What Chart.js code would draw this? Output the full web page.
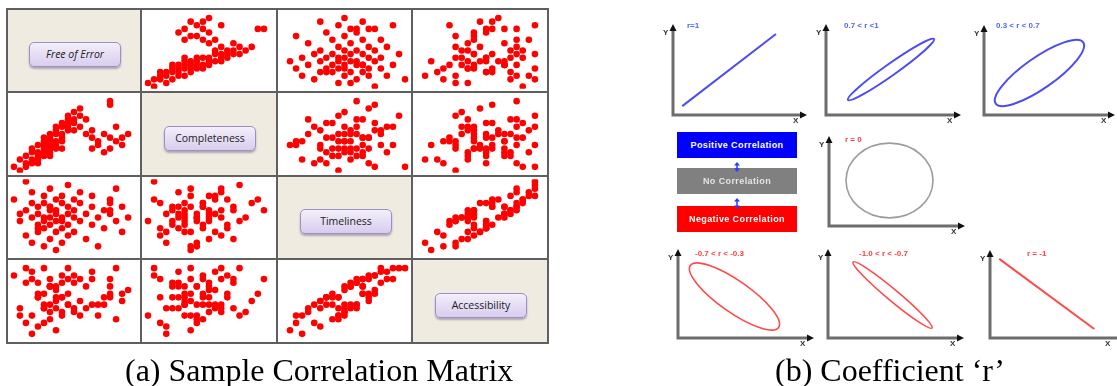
<!DOCTYPE html>
<html>
<head>
<meta charset="utf-8">
<script src="https://cdn.jsdelivr.net/npm/chart.js@4.4.1/dist/chart.umd.min.js"></script>
<style>
body{margin:0;width:1117px;height:386px;overflow:hidden;background:#fff;position:relative;font-family:"Liberation Sans",Arial,sans-serif}
.abs{position:absolute}
.cell{position:absolute;background:#fff}
.diag{background:#efebe1}
.btn{position:absolute;width:92px;height:25px;border:1px solid #9d8fc6;border-radius:5px;box-sizing:border-box;
background:linear-gradient(#f3effb,#d8cdee);box-shadow:0 2px 2px rgba(60,40,90,.35);
font:10.5px "Open Sans","DejaVu Sans",sans-serif;color:#222;text-align:center;line-height:23px}
.gl{position:absolute;background:#5f5f5f}
.plbl{position:absolute;font:bold 8px "Liberation Sans",Arial,sans-serif;white-space:nowrap;line-height:10px}
.axl{position:absolute;font:bold 8px "Liberation Sans",Arial,sans-serif;color:#333;line-height:10px}
.box{position:absolute;left:677px;width:120px;font:bold 9px "Liberation Sans",Arial,sans-serif;letter-spacing:.4px;
text-align:center;color:#fff}
.cap{position:absolute;font:32px "Liberation Serif","Times New Roman",serif;color:#000;line-height:32px;white-space:nowrap}
</style>
</head>
<body>
<script>
// variables of the scatter matrix (one value per respondent)
const varNames = ["Free of Error", "Completeness", "Timeliness", "Accessibility"];
const freeOfError = [1,0,2,2,3,3,3,4,4,4,4,5,5,5,5,5,6,6,6,6,6,6,7,7,7,7,7,7,8,8,8,8,8,9,9,9,9,9,10,10,10,10,11,11,11,12,12,13,13,13,14,14,15,15,16,16,17,17,18,18,19,16,16,2,1,3,4,5,6,8];
const completeness = [0,1,2,4,3,5,6,4,7,3,5,6,8,4,7,9,6,8,10,5,7,9,8,11,6,10,12,7,9,12,13,10,8,11,14,13,15,12,14,16,13,11,15,17,12,10,14,9,6,11,8,7,10,5,9,6,8,12,9,7,10,18,19,1,3,2,2,5,4,6];
const timeliness = [9,15,5,12,3,17,10,8,13,6,11,14,2,9,16,7,12,10,4,13,18,8,11,15,6,9,12,1,14,10,7,16,3,11,13,8,19,5,12,10,15,6,9,14,17,11,4,13,8,16,10,2,12,7,14,11,9,18,13,6,10,15,12,20,11,14,7,10,13,9];
const accessibility = [6,17,4,15,1,18,6,11,12,3,15,12,4,8,19,9,9,14,7,14,16,5,14,13,10,11,8,2,17,7,11,15,6,9,16,12,19,9,15,7,17,8,6,10,16,14,8,16,9,18,9,6,9,11,11,14,5,19,12,10,13,12,16,19,8,16,11,8,14,11];
const matrixVars = [freeOfError, completeness, timeliness, accessibility];

// coefficient panels (x, y in 0..10 axis units)
const panelLabels = ["r=1", "0.7 < r <1", "0.3 < r < 0.7", "r = 0", "-0.7 < r < -0.3", "-1.0 < r < -0.7", "r = -1"];
const posLineX = [0.7, 7.8],  posLineY = [1.0, 9.1];
const negLineX = [0.7, 7.9],  negLineY = [9.2, 1.05];
const strongPosX = [1.65, 8.12], strongPosY = [1.69, 8.54];
const weakPosX = [0.91, 7.69],   weakPosY = [1.3, 8.25];
const zeroX = [1.27, 7.76],      zeroY = [5.17, 5.17];
const weakNegX = [0.92, 7.51],   weakNegY = [8.33, 1.21];
const strongNegX = [1.87, 7.76], strongNegY = [8.74, 1.15];
const ellipseRatio = {strong: 0.11, weak: 0.29, zero: 0.86};
const corrBoxes = ["Positive Correlation", "No Correlation", "Negative Correlation"];

const pts = (xs, ys) => xs.map((v, i) => ({x: v, y: ys[i]}));

function el(tag, cls, css, txt){
  const d = document.createElement(tag);
  if(cls) d.className = cls;
  Object.assign(d.style, css || {});
  if(txt) d.textContent = txt;
  document.body.appendChild(d);
  return d;
}

/* ---------- (a) scatter matrix ---------- */
const colX = [7,141,277,412,548], rowY = [9,92,176,259,343];
for(let r=0;r<4;r++){
  for(let c=0;c<4;c++){
    const x = colX[c], y = rowY[r], w = colX[c+1]-x, h = rowY[r+1]-y;
    const cell = el("div", "cell"+(r==c?" diag":""), {left:x+"px",top:y+"px",width:w+"px",height:h+"px"});
    if(r==c){
      const b = document.createElement("div");
      b.className = "btn";
      b.textContent = varNames[r];
      b.style.left = Math.round((w-92)/2+1)+"px";
      b.style.top = Math.round((h-25)/2+4)+"px";
      if(r==0) b.style.fontStyle = "italic";
      cell.appendChild(b);
      continue;
    }
    const cv = document.createElement("canvas");
    cell.appendChild(cv);
    new Chart(cv, {
      type: "scatter",
      data: {datasets: [{data: pts(matrixVars[c], matrixVars[r])}]},
      options: {
        responsive: true, maintainAspectRatio: false, animation: false,
        layout: {padding: 3},
        elements: {point: {radius: 3.3, backgroundColor: "#ff0000", borderWidth: 0, hoverRadius: 3.3}},
        scales: {x: {display: false, min: -0.6, max: 20.6}, y: {display: false, min: -0.6, max: 20.6}},
        plugins: {legend: {display: false}, tooltip: {enabled: false}}
      }
    });
  }
}
for(const x of colX) el("div","gl",{left:(x-1)+"px",top:"8px",width:"2px",height:"336px"});
for(const y of rowY) el("div","gl",{left:"6px",top:(y-1)+"px",width:"543px",height:"2px"});

/* ---------- (b) coefficient panels ---------- */
const axisArrows = {
  id: "axisArrows",
  beforeDatasetsDraw(chart){
    const {ctx, chartArea: a} = chart;
    ctx.save();
    ctx.strokeStyle = "#6d6d6d"; ctx.lineWidth = 3;
    ctx.beginPath();
    ctx.moveTo(a.left, a.top+3); ctx.lineTo(a.left, a.bottom); ctx.lineTo(a.right-3, a.bottom);
    ctx.stroke();
    ctx.fillStyle = "#111";
    ctx.beginPath();
    ctx.moveTo(a.left, a.top-2); ctx.lineTo(a.left-3.5, a.top+5); ctx.lineTo(a.left+3.5, a.top+5);
    ctx.fill();
    ctx.beginPath();
    ctx.moveTo(a.right+2, a.bottom); ctx.lineTo(a.right-5, a.bottom-3.5); ctx.lineTo(a.right-5, a.bottom+3.5);
    ctx.fill();
    ctx.restore();
  }
};
const ellipses = {
  id: "ellipses",
  afterDatasetsDraw(chart){
    const ctx = chart.ctx;
    chart.data.datasets.forEach((ds, i) => {
      if(!ds.ellipse) return;
      const [p, q] = chart.getDatasetMeta(i).data;
      const cx = (p.x+q.x)/2, cy = (p.y+q.y)/2;
      const ra = Math.hypot(q.x-p.x, q.y-p.y)/2;
      ctx.save();
      ctx.strokeStyle = ds.borderColor; ctx.lineWidth = ds.borderWidth;
      ctx.beginPath();
      ctx.ellipse(cx, cy, ra, ra*ds.ellipse, Math.atan2(q.y-p.y, q.x-p.x), 0, Math.PI*2);
      ctx.stroke();
      ctx.restore();
    });
  }
};

function panel(box, dataset, label, labelPos, labelColor){
  const [l, t, r, b] = box, pad = 10;
  const wrap = el("div", "abs", {left:(l-pad)+"px", top:(t-pad)+"px", width:(r-l+2*pad)+"px", height:(b-t+2*pad)+"px"});
  const cv = document.createElement("canvas");
  wrap.appendChild(cv);
  new Chart(cv, {
    type: "scatter",
    data: {datasets: [dataset]},
    options: {
      responsive: true, maintainAspectRatio: false, animation: false,
      layout: {padding: pad},
      scales: {x: {display: false, min: 0, max: 10}, y: {display: false, min: 0, max: 10}},
      plugins: {legend: {display: false}, tooltip: {enabled: false}}
    },
    plugins: [axisArrows, ellipses]
  });
  el("div", "axl", {left:(l-10)+"px", top:(t+2)+"px"}, "Y");
  el("div", "axl", {left:(Math.min(r, 1117)-12)+"px", top:(b+1)+"px"}, "X");
  el("div", "plbl", {left:labelPos[0]+"px", top:labelPos[1]+"px", color:labelColor}, label);
}
const lineDs = (xs, ys, col) => ({data: pts(xs, ys), showLine: true, pointRadius: 0, borderColor: col, borderWidth: 2});
const ellDs = (xs, ys, col, ratio, w) => ({data: pts(xs, ys), pointRadius: 0, borderColor: col, borderWidth: w, ellipse: ratio});
const BLUE = "#4c4cf4", RED = "#ff4a4a", LBLUE = "#5266ff", LRED = "#ff4040";

panel([673,26,805,115], lineDs(posLineX, posLineY, BLUE), panelLabels[0], [687,21], LBLUE);
panel([826,26,959,115], ellDs(strongPosX, strongPosY, BLUE, ellipseRatio.strong, 2), panelLabels[1], [844,21], LBLUE);
panel([984,27,1113,115], ellDs(weakPosX, weakPosY, BLUE, ellipseRatio.weak, 2), panelLabels[2], [996,21], LBLUE);
panel([829,138,963,226], ellDs(zeroX, zeroY, "#9c9c9c", ellipseRatio.zero, 1.6), panelLabels[3], [845,135], LRED);
panel([678,251,812,338], ellDs(weakNegX, weakNegY, RED, ellipseRatio.weak, 1.6), panelLabels[4], [695,249], LRED);
panel([828,251,962,338], ellDs(strongNegX, strongNegY, RED, ellipseRatio.strong, 1.6), panelLabels[5], [859,249], LRED);
panel([990,252,1122,338], lineDs(negLineX, negLineY, RED), panelLabels[6], [1027,249], LRED);

// correlation legend boxes
const boxTop = [132, 168, 206], boxBg = ["#0000ff", "#808080", "#ff0000"], boxFg = ["#fff", "#e4e4e4", "#fff"];
corrBoxes.forEach((t, i) => el("div", "box", {top:boxTop[i]+"px", height:"26px", lineHeight:"26px", background:boxBg[i], color:boxFg[i]}, t));
[[158,168],[195,206]].forEach(([a, z]) => {
  const s = el("div", "abs", {left:"733px", top:a+"px", width:"8px", height:(z-a)+"px"});
  s.innerHTML = `<svg width="8" height="${z-a}"><path d="M4 0 L1 3.5 L7 3.5 Z M4 ${z-a} L1 ${z-a-3.5} L7 ${z-a-3.5} Z" fill="#2a3cff"/><line x1="4" y1="3" x2="4" y2="${z-a-3}" stroke="#2a3cff" stroke-width="1.5"/></svg>`;
});

// captions
el("div", "cap", {left:"125px", top:"354px"}, "(a) Sample Correlation Matrix");
el("div", "cap", {left:"775px", top:"354px"}, "(b) Coefficient \u2018r\u2019");
</script>
</body>
</html>
